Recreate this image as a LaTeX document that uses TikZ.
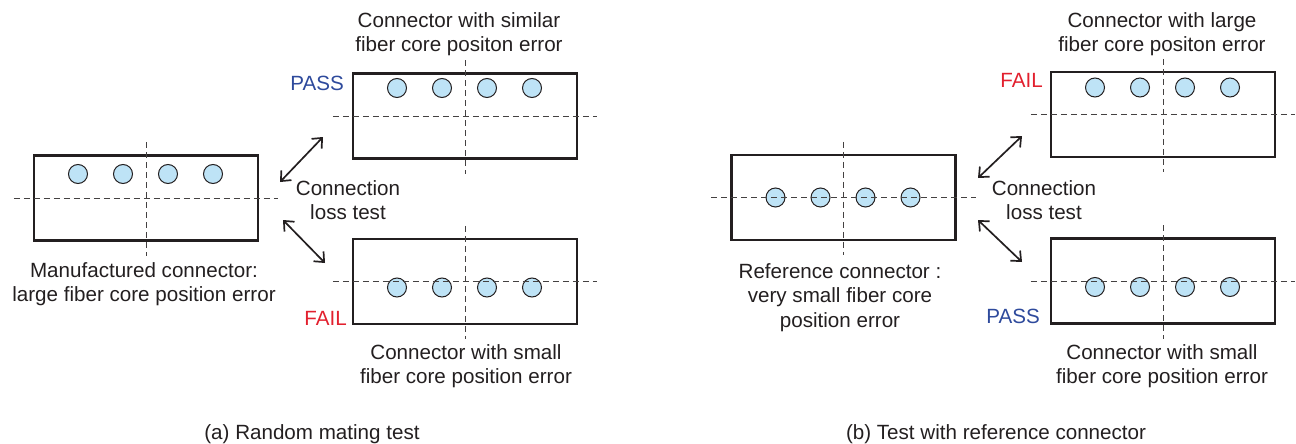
\documentclass[tikz,border=0pt]{standalone}
\usepackage{fontspec}
\setmainfont{Liberation Sans}
\usetikzlibrary{arrows.meta,positioning}
\definecolor{corefill}{HTML}{BEE3F6}
\definecolor{passblue}{HTML}{2E4A9C}
\definecolor{failred}{HTML}{E2202E}
\definecolor{inkgray}{HTML}{231F20}
\tikzset{
      conn/.style = {draw=inkgray, line width=2.2pt, minimum width=224pt,
                     minimum height=85pt, inner sep=0pt},          % connector end face
      core/.style = {circle, draw=inkgray, line width=1pt, fill=corefill,
                     minimum size=19pt, inner sep=0pt},
      axis/.style = {draw=inkgray!85, line width=1pt, dash pattern=on 6pt off 4pt},
       arr/.style = {{Straight Barb[length=8pt,width=14pt]}-{Straight Barb[length=8pt,width=14pt]},
                     line width=1.7pt, inkgray},
       lbl/.style = {align=center, inner sep=0pt, text=inkgray,
                     font=\fontsize{20.6}{24.5}\selectfont},
    verdict/.style = {lbl, anchor=base east},
}
\begin{document}
\begin{tikzpicture}[x=1pt,y=-1pt]
\useasboundingbox (0,0) rectangle (1296,444);
% connector faces
\node[conn] (cm) at (146,198) {};
\node[conn] (ct) at (465,116) {};
\node[conn] (cb) at (465,281.5) {};
\node[conn] (rf) at (843.5,197.5) {};
\node[conn] (rt) at (1163,114.5) {};
\node[conn] (rb) at (1163,281) {};
% fiber cores
\foreach \n/\dy in {cm/-24,ct/-28,cb/6,rf/0,rt/-27,rb/6}
  \foreach \dx [count=\i] in {-68,-23,22,67}
    \node[core] (\n\i) at ([shift={(\dx,\dy)}]\n.center) {};
% centre axes
\foreach \n in {cm,ct,cb,rf,rt,rb} {
  \draw[axis] ([xshift=-19pt]\n.west) -- ([xshift=19pt]\n.east);
  \draw[axis] ([yshift=12pt]\n.north) -- ([yshift=-14pt]\n.south);
}
% connection loss test arrows
\coordinate (a1) at (280,182); \coordinate (a2) at (323,137);
\coordinate (a3) at (283,220); \coordinate (a4) at (325,263);
\coordinate (b1) at (978,178); \coordinate (b2) at (1022,136);
\coordinate (b3) at (978,220); \coordinate (b4) at (1022,262);
\draw[arr] (a1) -- (a2);
\draw[arr] (a3) -- (a4);
\draw[arr] (b1) -- (b2);
\draw[arr] (b3) -- (b4);
% labels
\node[lbl, anchor=north] (tct) at (459,12) {Connector with similar\\fiber core positon error};
\node[lbl, anchor=north] (tcm) at (144,262) {Manufactured connector:\\large fiber core position error};
\node[lbl, anchor=north] (tla) at (348,180) {Connection\\loss test};
\node[lbl, anchor=north] (tcb) at (466,344) {Connector with small\\fiber core position error};
\node[lbl, anchor=north] (trf) at (840,263) {Reference connector :\\very small fiber core\\position error};
\node[lbl, anchor=north] (trt) at (1162,12) {Connector with large\\fiber core positon error};
\node[lbl, anchor=north] (tlb) at (1044,180) {Connection\\loss test};
\node[lbl, anchor=north] (trb) at (1162,344) {Connector with small\\fiber core position error};
\node[verdict, text=passblue] (pa) at (344,90) {PASS};
\node[verdict, text=failred] (fa) at (347,325) {FAIL};
\node[verdict, text=failred] (fb) at (1043,88) {FAIL};
\node[verdict, text=passblue] (pb) at (1040,323) {PASS};
\node[lbl, anchor=base] (capa) at (312,439) {(a) Random mating test};
\node[lbl, anchor=base] (capb) at (996,439) {(b) Test with reference connector};
\end{tikzpicture}
\end{document}
